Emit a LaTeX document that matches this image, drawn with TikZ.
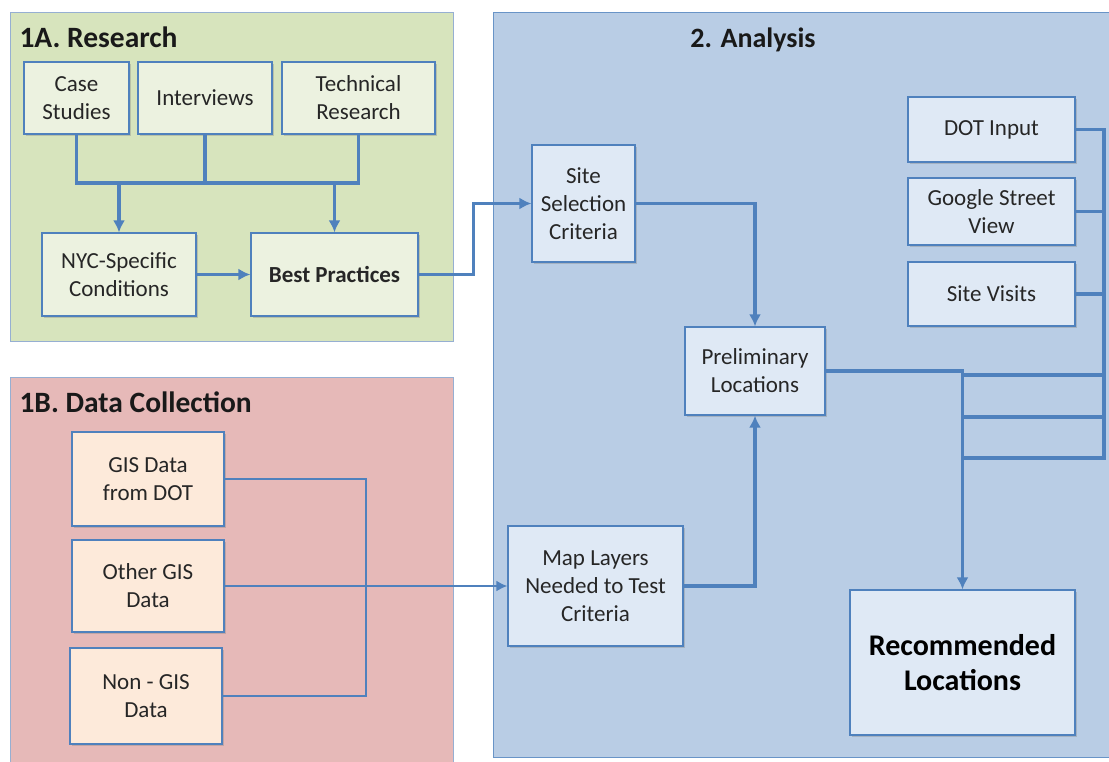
\documentclass[tikz,border=0pt]{standalone}
\usepackage{fontspec}
\setmainfont{Carlito}
\usepackage{tikz}
\usetikzlibrary{
  arrows.meta,
  positioning,
  shadows
}
\definecolor{linkblue}{RGB}{79,129,189}
\definecolor{panelline}{RGB}{150,175,210}
\definecolor{researchgreen}{RGB}{215,228,189}
\definecolor{collectred}{RGB}{230,185,184}
\definecolor{analysisblue}{RGB}{185,205,229}
\definecolor{greenfill}{RGB}{236,242,224}
\definecolor{redfill}{RGB}{253,234,218}
\definecolor{bluefill}{RGB}{223,233,245}
\tikzset{
  stagebox/.style={
    draw=linkblue,
    line width=1.2pt,
    align=center,
    inner sep=3pt,
    text=black!85,
    font=\fontsize{23}{28}\selectfont,
    drop shadow={shadow xshift=1.5pt,shadow yshift=-1.5pt,opacity=0.35}
  },
  researchbox/.style={stagebox,fill=greenfill},
  collectbox/.style={stagebox,fill=redfill},
  analysisbox/.style={stagebox,fill=bluefill},
  panel/.style={draw=panelline,line width=1pt},
  paneltitle/.style={font=\fontsize{29.5}{34}\selectfont\bfseries,text=black!90},
  link/.style={draw=linkblue,line width=3.2pt},
  thinlink/.style={draw=linkblue,line width=2.4pt},
  linkarrow/.style={link,-{Latex[length=12pt,width=12pt]}},
  thinarrow/.style={thinlink,-{Latex[length=11pt,width=11pt]}}
}

\begin{document}
\begin{tikzpicture}[x=1pt,y=-1pt]
  \useasboundingbox (0,0) rectangle (1109,761);
  % panels
  \filldraw[panel,fill=researchgreen] (10,12) rectangle (453,341);
  \filldraw[panel,fill=collectred] (10,377) rectangle (453,775);
  \filldraw[panel,fill=analysisblue,draw=linkblue!85] (493,12) rectangle (1130,757);
  \node[paneltitle,anchor=west] (titleA) at (16,37) {1A. Research};
  \node[paneltitle,anchor=west] (titleB) at (16,402) {1B. Data Collection};
  \node[paneltitle,font=\fontsize{28}{32}\selectfont\bfseries] (titleC) at (753,40) {2. Analysis};

  % 1A
  \node[researchbox,minimum width=105pt,minimum height=72pt] (case) at (76.5,98) {Case\\Studies};
  \node[researchbox,minimum width=134pt,minimum height=72pt] (interv) at (205,98) {Interviews};
  \node[researchbox,minimum width=153pt,minimum height=72pt] (tech) at (358.5,98) {Technical\\Research};
  \node[researchbox,minimum width=154pt,minimum height=83pt] (nyc) at (119,274.5) {NYC-Specific\\Conditions};
  \node[researchbox,minimum width=167pt,minimum height=83pt,font=\fontsize{23}{28}\selectfont\bfseries] (best) at (334.5,274.5) {Best Practices};

  % 1B
  \node[collectbox,minimum width=152pt,minimum height=94pt] (gisdot) at (148,479) {GIS Data\\from DOT};
  \node[collectbox,minimum width=152pt,minimum height=92pt] (othergis) at (148,586) {Other GIS\\Data};
  \node[collectbox,minimum width=152pt,minimum height=96pt] (nongis) at (146,696) {Non - GIS\\Data};

  % 2
  \node[analysisbox,minimum width=103pt,minimum height=117pt] (site) at (583.5,203.5) {Site\\Selection\\Criteria};
  \node[analysisbox,minimum width=140pt,minimum height=88pt] (prelim) at (755,371) {Preliminary\\Locations};
  \node[analysisbox,minimum width=175pt,minimum height=120pt] (maplayers) at (595.5,586) {Map Layers\\Needed to Test\\Criteria};
  \node[analysisbox,minimum width=167pt,minimum height=65pt] (dot) at (991.5,129.5) {DOT Input};
  \node[analysisbox,minimum width=167pt,minimum height=67pt] (google) at (991.5,211.5) {Google Street\\View};
  \node[analysisbox,minimum width=167pt,minimum height=64pt] (visits) at (991.5,294) {Site Visits};
  \node[analysisbox,minimum width=225pt,minimum height=145pt,font=\fontsize{30}{35}\selectfont\bfseries,text=black] (recom) at (962.5,662.5) {Recommended\\Locations};

  % connectors
  \coordinate (rjoin) at (205,183);
  \draw[link] (case.south) |- (rjoin) -| (tech.south);
  \draw[link] (interv.south) -- (rjoin);
  \draw[linkarrow] (nyc.north |- rjoin) -- (nyc.north);
  \draw[linkarrow] (best.north |- rjoin) -- (best.north);
  \draw[linkarrow] (nyc) -- (best);
  \draw[linkarrow] (best.east) -- ++(55,0) |- (site.west);

  \coordinate (djoin) at (366,586);
  \draw[thinlink] (gisdot.east) -- (gisdot.east -| djoin) -- (nongis.east -| djoin) -- (nongis.east);
  \draw[thinarrow] (othergis.east) -- (maplayers.west);

  \draw[linkarrow] (site.east) -| (prelim.north);
  \draw[linkarrow] (maplayers.east) -| (prelim.south);
  \coordinate (rbus) at (1104,0);
  \foreach \src/\yy in {dot/375,google/417,visits/458}
    \draw[link] (\src.east) -| (rbus |- 0,\yy) -- (recom.north |- 0,\yy);
  \draw[linkarrow] (prelim.east) -| (recom.north);
\end{tikzpicture}
\end{document}
